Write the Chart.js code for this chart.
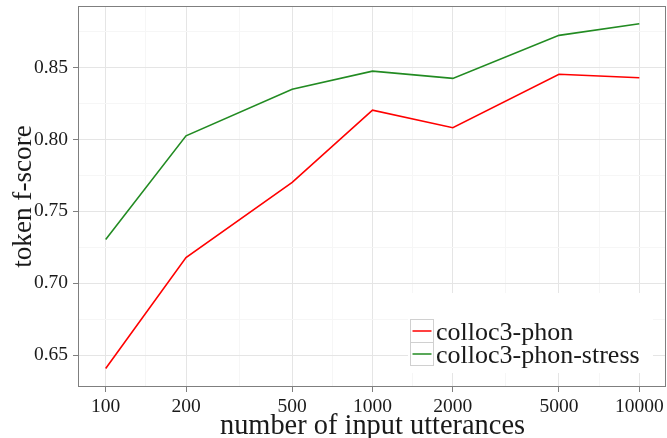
<!DOCTYPE html>
<html>
<head>
<meta charset="utf-8">
<script src="https://cdn.jsdelivr.net/npm/chart.js@4/dist/chart.umd.min.js"></script>
<style>
  html, body { margin: 0; padding: 0; background: #fff; }
  #wrap { width: 667px; height: 438px; }
</style>
</head>
<body>
<div id="wrap"><canvas id="fscoreChart" width="667" height="438"></canvas></div>
<script>
// x: number of input utterances (log scale)
const utterances = [100, 200, 500, 1000, 2000, 5000, 10000];
// token f-score per series
const colloc3Phon = [0.6408, 0.7179, 0.7701, 0.8203, 0.8081, 0.8453, 0.8428];
const colloc3PhonStress = [0.7304, 0.8025, 0.8349, 0.8474, 0.8424, 0.8723, 0.8804];
const seriesNames = ['colloc3-phon', 'colloc3-phon-stress'];

const xMajor = [100, 200, 500, 1000, 2000, 5000, 10000];
const xMinor = [141.42, 316.23, 707.11, 1414.2, 3162.3, 7071.1];
const yMajor = [0.65, 0.70, 0.75, 0.80, 0.85];
const yMinor = [0.675, 0.725, 0.775, 0.825, 0.875];

const serif = "'Liberation Serif', 'DejaVu Serif', serif";
const majorGrid = '#e5e5e5';
const minorGrid = '#f6f6f6';
const borderGrey = '#7f7f7f';

function toPoints(ys) {
    return utterances.map((u, i) => ({ x: u, y: ys[i] }));
}
function isMajor(list, v) {
    return list.some(m => Math.abs(m - v) < 1e-6 * Math.max(1, m));
}

// ggplot-style legend inside the panel + full panel border
const panelPlugin = {
    id: 'panelPlugin',
    afterDatasetsDraw(chart) {
        const ctx = chart.ctx;
        const a = chart.chartArea;
        ctx.save();
        // legend background
        ctx.fillStyle = '#ffffff';
        ctx.fillRect(a.right - 258, a.bottom - 93, 245, 80);
        chart.data.datasets.forEach((ds, i) => {
            const kx = a.right - 255.5;
            const ky = a.bottom - 66.5 + i * 23;
            ctx.strokeStyle = '#d0d0d0';
            ctx.lineWidth = 1;
            ctx.strokeRect(kx, ky, 23, 23);
            ctx.strokeStyle = ds.borderColor;
            ctx.lineWidth = 1.5;
            ctx.beginPath();
            ctx.moveTo(kx + 2, ky + 11.5);
            ctx.lineTo(kx + 21, ky + 11.5);
            ctx.stroke();
            ctx.fillStyle = '#1a1a1a';
            ctx.font = '26px ' + serif;
            ctx.textBaseline = 'alphabetic';
            ctx.textAlign = 'left';
            ctx.fillText(ds.label, kx + 25.5, ky + 20);
        });
        ctx.restore();
    },
    afterDraw(chart) {
        const ctx = chart.ctx;
        const a = chart.chartArea;
        ctx.save();
        ctx.strokeStyle = borderGrey;
        ctx.lineWidth = 1;
        ctx.strokeRect(a.left - 0.5, a.top - 0.5, a.right - a.left, a.bottom - a.top + 1);
        ctx.restore();
    }
};

const ctxF = document.getElementById('fscoreChart').getContext('2d');
new Chart(ctxF, {
    type: 'line',
    data: {
        datasets: [
            {
                label: seriesNames[0],
                data: toPoints(colloc3Phon),
                borderColor: '#ff0000',
                borderWidth: 1.6,
                pointRadius: 0,
                tension: 0,
                fill: false
            },
            {
                label: seriesNames[1],
                data: toPoints(colloc3PhonStress),
                borderColor: '#228b22',
                borderWidth: 1.6,
                pointRadius: 0,
                tension: 0,
                fill: false
            }
        ]
    },
    options: {
        responsive: false,
        animation: false,
        layout: { padding: { top: 7, right: 1, left: 0, bottom: 0 } },
        plugins: { legend: { display: false }, tooltip: { enabled: false } },
        scales: {
            x: {
                type: 'logarithmic',
                min: 79.43,
                max: 12589.25,
                afterBuildTicks: s => {
                    s.ticks = xMajor.concat(xMinor).sort((p, q) => p - q).map(v => ({ value: v }));
                },
                afterFit: s => {
                    s.height = 52;
                    s.paddingLeft = 0;
                    s.paddingRight = 0;
                },
                border: { display: false },
                grid: {
                    color: c => isMajor(xMajor, c.tick.value) ? majorGrid : minorGrid,
                    tickColor: c => isMajor(xMajor, c.tick.value) ? borderGrey : 'rgba(0,0,0,0)',
                    tickLength: 6,
                    lineWidth: 1
                },
                ticks: {
                    autoSkip: false,
                    maxRotation: 0,
                    padding: 3,
                    color: '#1a1a1a',
                    font: { family: serif, size: 19.5 },
                    callback: v => isMajor(xMajor, v) ? String(Math.round(v)) : ''
                },
                title: {
                    display: true,
                    text: 'number of input utterances',
                    color: '#1a1a1a',
                    font: { family: serif, size: 28.4, lineHeight: 0.82 },
                    padding: { top: 0, bottom: 0 }
                }
            },
            y: {
                type: 'linear',
                min: 0.6286,
                max: 0.8920,
                afterBuildTicks: s => {
                    s.ticks = yMajor.concat(yMinor).sort((p, q) => p - q).map(v => ({ value: v }));
                },
                afterFit: s => {
                    s.width = 79;
                    s.paddingTop = 0;
                    s.paddingBottom = 0;
                },
                border: { display: false },
                grid: {
                    color: c => isMajor(yMajor, c.tick.value) ? majorGrid : minorGrid,
                    tickColor: c => isMajor(yMajor, c.tick.value) ? borderGrey : 'rgba(0,0,0,0)',
                    tickLength: 6,
                    lineWidth: 1
                },
                ticks: {
                    autoSkip: false,
                    padding: 5,
                    color: '#1a1a1a',
                    font: { family: serif, size: 19.5 },
                    callback: v => isMajor(yMajor, v) ? v.toFixed(2) : ''
                },
                title: {
                    display: true,
                    text: 'token f-score',
                    color: '#1a1a1a',
                    font: { family: serif, size: 27.2, lineHeight: 1 },
                    padding: { top: 10, bottom: 0 }
                }
            }
        }
    },
    plugins: [panelPlugin]
});
</script>
</body>
</html>
